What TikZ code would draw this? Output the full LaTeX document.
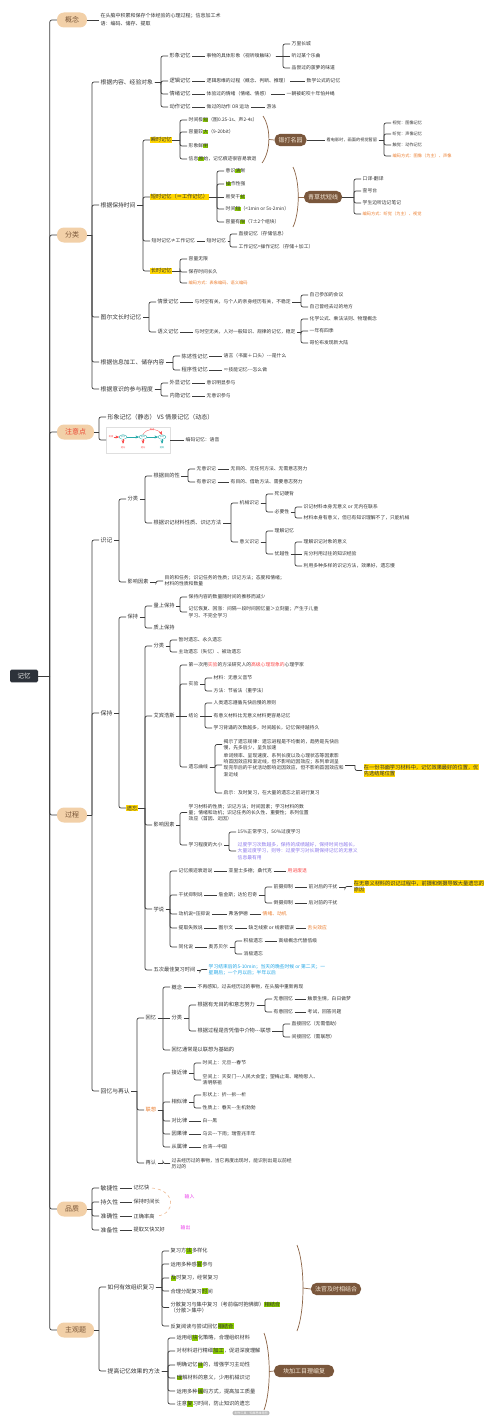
\documentclass[tikz,border=0pt]{standalone}
\usepackage{fontspec}
\setmainfont{Noto Sans CJK SC}
\usetikzlibrary{calc, arrows, shapes.geometric}

\definecolor{peach}{RGB}{242,208,168}
\definecolor{lonetxt}{RGB}{120,85,55}
\definecolor{txt}{RGB}{51,51,51}
\definecolor{lnk}{RGB}{60,60,60}
\definecolor{rootc}{RGB}{45,50,58}
\definecolor{hly}{RGB}{255,214,0}
\definecolor{hlg}{RGB}{140,206,0}
\definecolor{brbox}{RGB}{122,87,60}
\definecolor{brtxt}{RGB}{245,232,215}
\definecolor{brline}{RGB}{140,100,70}
\definecolor{tor}{RGB}{236,125,45}
\definecolor{tred}{RGB}{250,75,75}
\definecolor{tpur}{RGB}{140,120,235}
\definecolor{tblu}{RGB}{30,165,230}
\definecolor{tmag}{RGB}{235,60,235}
\definecolor{tteal}{RGB}{40,170,170}
\definecolor{zyred}{RGB}{235,70,50}
\definecolor{dashc}{RGB}{235,175,130}

\newcommand\hlgr[1]{{\setlength{\fboxsep}{0.25pt}\colorbox{hlg}{#1}}}
\newcommand\hlye[1]{{\setlength{\fboxsep}{0.25pt}\colorbox{hly}{#1}}}
\newcommand\dd{-{}-{}-}

\begin{document}
\begin{tikzpicture}[x=1pt,y=-1pt,>=stealth',
  link/.style={draw=lnk,line width=0.7pt},
  l1/.style={fill=peach,rounded corners=7pt,minimum height=15pt,inner xsep=8pt,text=lonetxt,font=\fontsize{7}{8}\selectfont},
  t2/.style={anchor=west,inner xsep=1.5pt,inner ysep=1pt,text=txt,font=\fontsize{5.8}{7}\selectfont},
  t3/.style={t2,align=left,font=\fontsize{5.2}{6.8}\selectfont},
  t4/.style={t2,align=left,font=\fontsize{4.8}{6.3}\selectfont},
  t5/.style={t2,align=left,font=\fontsize{4.2}{5.2}\selectfont},
  hl/.style={fill=hly,inner xsep=0.6pt,inner ysep=0.6pt},
  mcbox/.style={fill=brbox,text=brtxt,rounded corners=5.5pt,minimum height=12pt,inner xsep=4pt,font=\fontsize{6}{7}\selectfont},
  brace/.style={draw=brline,line width=0.7pt}]

\fill[white] (0,0) rectangle (502,1421);
\useasboundingbox (0,0) rectangle (502,1421);

% root and main branches
\node[fill=rootc,text=white!85!gray,minimum width=28pt,minimum height=12pt,rounded corners=1.5pt,font=\fontsize{6.5}{7}\selectfont] (mem) at (24,676) {记忆};
\node[l1] (gn) at (72,20) {概念};
\node[l1] (fl) at (72,235) {分类};
\node[l1,text=zyred] (zyd) at (75.5,432) {注意点};
\node[l1] (gc) at (72,815) {过程};
\node[l1] (pz) at (72,1209) {品质};
\node[l1] (zgt) at (75.5,1330) {主观题};

% 概念
\node[t4,font=\fontsize{5}{8}\selectfont] (gnt) at (99,20) {在头脑中积累和保存个体经验的心理过程；信息加工术\\语：编码、储存、提取};

% 分类
\node[t2] (fl1) at (99,82) {根据内容、经验对象};
\node[t3] (xx) at (168,56) {形象记忆};
\node[t4] (xxd) at (205,56) {事物的具体形象（视听嗅触味）};
\node[t4] (xx1) at (290,44) {万里长城};
\node[t4] (xx2) at (290,56) {听过某个乐曲};
\node[t4] (xx3) at (290,68) {品尝过的菠萝的味道};
\node[t3] (lj) at (168,81) {逻辑记忆};
\node[t4] (ljd) at (205,81) {逻辑思维的过程（概念、判断、推理）};
\node[t4] (ljx) at (305,81) {数学公式的记忆};
\node[t3] (qx) at (168,94) {情绪记忆};
\node[t4] (qxd) at (205,94) {体验过的情绪（情绪、情感）};
\node[t4] (qxx) at (285,94) {一朝被蛇咬十年怕井绳};
\node[t3] (dz) at (168,107) {动作记忆};
\node[t4] (dzd) at (205,107) {做过的动作 OR 运动};
\node[t4] (dzx) at (265,107) {游泳};

\node[t2] (fl2) at (99,205) {根据保持时间};
\node[t3,hl] (ss) at (150,140) {瞬时记忆};
\node[t4] (ss1) at (187,120) {时间极\hlgr{短}（图0.25-1s、声2-4s）};
\node[t4] (ss2) at (187,132) {容量较\hlgr{大}（9-20bit）};
\node[t4] (ss3) at (187,146) {形象鲜\hlgr{明}};
\node[t4] (ss4) at (187,159) {信息\hlgr{原}始，记忆痕迹很容易衰退};
\node[t3,hl] (ds) at (150,197) {短时记忆（≈工作记忆）};
\node[t4] (ds1) at (224,171) {意识\hlgr{清}晰};
\node[t4] (ds2) at (224,184) {\hlgr{操}作性强};
\node[t4] (ds3) at (224,197) {易受干\hlgr{扰}};
\node[t4] (ds4) at (224,209) {时间\hlgr{短}（<1min or 5s-2min）};
\node[t4] (ds5) at (224,222) {容量有\hlgr{限}（7±2个组块）};
\node[t4] (dsg) at (150,241) {短时记忆≠工作记忆};
\node[t4] (dsg1) at (205,241) {短时记忆};
\node[t4] (dsg2) at (237,234) {直接记忆（存储信息）};
\node[t4] (dsg3) at (237,247) {工作记忆=操作记忆（存储＋加工）};
\node[t3,hl] (cs) at (150,271) {长时记忆};
\node[t4] (cs1) at (187,259) {容量无限};
\node[t4] (cs2) at (187,272) {保存时间长久};
\node[t5,text=tor] (cs3) at (187,283) {编码方式：表象编码、语义编码};

% mnemonic braces
\coordinate (b1t) at (263,116);
\coordinate (b1b) at (262,163);
\coordinate (b1m) at (269,139.5);
\draw[brace] (b1t) .. controls (271,128) and (271,151) .. (b1b);
\node[mcbox] (mc1) at (290.5,140) {锻打名园};
\draw[brace] (b1m) -- (mc1.west);
\node[t5] (mc1d) at (325,140) {看电影时，画面的视觉暂留};
\node[t5] (mc11) at (391,123) {视觉：图像记忆};
\node[t5] (mc12) at (391,134) {听觉：声像记忆};
\node[t5] (mc13) at (391,145) {触觉：动作记忆};
\node[t5,text=tor] (mc14) at (391,156) {编码方式：图像（为主）、声像};

\coordinate (b2t) at (293,167);
\coordinate (b2b) at (293,227);
\coordinate (b2m) at (298.2,197);
\draw[brace] (b2t) .. controls (300,182) and (300,212) .. (b2b);
\node[mcbox] (mc2) at (323,197) {青草扰短线};
\draw[brace] (b2m) -- (mc2.west);
\node[t4] (mc21) at (361,179) {口译-翻译};
\node[t4] (mc22) at (361,191) {查号台};
\node[t4] (mc23) at (361,203) {学生边听边记笔记};
\node[t5,text=tor] (mc24) at (361,214) {编码方式：听觉（为主）、视觉};

\node[t2] (fl3) at (99,317) {图尔文长时记忆};
\node[t3] (qj) at (156,302) {情景记忆};
\node[t4] (qjd) at (193,302) {与时空有关，与个人的亲身经历有关，不稳定};
\node[t4] (qj1) at (308,295) {自己参加的会议};
\node[t4] (qj2) at (308,307) {自己曾经去过的地方};
\node[t3] (yy) at (156,332) {语义记忆};
\node[t4] (yyd) at (193,332) {与时空无关，人对一般知识、规律的记忆，稳定};
\node[t4] (yy1) at (308,319) {化学公式、乘法法则、物理概念};
\node[t4] (yy2) at (308,331) {一年有四季};
\node[t4] (yy3) at (308,343) {哥伦布发现新大陆};

\node[t2] (fl4) at (99,362) {根据信息加工、储存内容};
\node[t3] (cxa) at (180,356) {陈述性记忆};
\node[t4] (cxa1) at (222,356) {语言（书面＋口头）\dd 是什么};
\node[t3] (cxb) at (180,370) {程序性记忆};
\node[t4] (cxb1) at (222,370) {≈技能记忆\dd 怎么做};

\node[t2] (fl5) at (99,389) {根据意识的参与程度};
\node[t3] (wx) at (168,383) {外显记忆};
\node[t4] (wx1) at (205,383) {意识明显参与};
\node[t3] (ny) at (168,396) {内隐记忆};
\node[t4] (ny1) at (205,396) {无意识参与};

% 注意点
\node[t2,font=\fontsize{6}{7}\selectfont] (zy1) at (106,417) {形象记忆（静态） VS 情景记忆（动态）};
\node[anchor=west,draw=gray!25,line width=0.3pt,minimum width=64pt,minimum height=26pt,inner sep=0pt] (zyimg) at (106,440) {};
\begin{scope}[font=\fontsize{2.2}{2.6}\selectfont,line width=0.3pt]
  \node[text=tred,inner sep=0.3pt] (im0) at (111,437) {刺激};
  \node[ellipse,draw=tteal,inner sep=0.6pt,text=tteal] (im1) at (123,437) {感觉};
  \node[ellipse,draw=tteal,inner sep=0.6pt,text=tteal] (im2) at (143,437) {短时};
  \node[ellipse,draw=tteal,inner sep=0.6pt,text=tteal] (im3) at (162,437) {长时};
  \draw[->,tred] (im0) -- (im1);
  \draw[->,tteal] (im1) -- (im2);
  \draw[->,tteal] (im2) -- (im3);
  \draw[->,tred] (im2.north) .. controls (146,428) and (158,428) .. (im3.north);
  \node[text=tred] (im4) at (152,429.5) {复述};
  \node[text=tred] (im5) at (123,448) {遗忘};
  \node[text=tred] (im6) at (143,448) {遗忘};
  \node[text=tteal] (im7) at (162,448) {提取};
  \draw[->,tred] (im1.south) -- (im5.north);
  \draw[->,tred] (im2.south) -- (im6.north);
  \draw[->,tteal] (im3.south) -- (im7.north);
\end{scope}
\node[t4] (zy2) at (184,440) {编码记忆：语音};

% 过程
\node[t2] (sj) at (99,540) {识记};
\node[t2] (bc) at (99,713) {保持};
\node[t2] (hy) at (99,1091) {回忆与再认};

\node[t3] (sjfl) at (126,499) {分类};
\node[t3] (sjyx) at (126,582) {影响因素};
\node[t3] (mdx) at (152,476) {根据目的性};
\node[t3] (clx) at (152,523) {根据识记材料性质、识记方法};
\node[t4] (wysj) at (195,469) {无意识记};
\node[t4] (wysj1) at (229,469) {无目的、无任何方法、无需意志努力};
\node[t4] (yysj) at (195,482) {有意识记};
\node[t4] (yysj1) at (229,482) {有目的、借助方法、需要意志努力};
\node[t4] (jx) at (238,503) {机械识记};
\node[t4] (jx1) at (273,494) {死记硬背};
\node[t4] (byx) at (273,512) {必要性};
\node[t4] (byx1) at (302,507) {识记材料本身无意义 or 无内在联系};
\node[t4] (byx2) at (302,518) {材料本身有意义，但已有知识理解不了，只能机械};
\node[t4] (yyi) at (238,542) {意义识记};
\node[t4] (yyi1) at (273,531) {理解记忆};
\node[t4] (yyx) at (273,554) {优越性};
\node[t4] (yyx1) at (302,542) {理解识记对象的意义};
\node[t4] (yyx2) at (302,554) {充分利用过往的知识经验};
\node[t4] (yyx3) at (302,566) {利用多种多样的识记方法，效果好，遗忘慢};
\node[t4] (sjyx1) at (163,581) {目的和任务；识记任务的性质；识记方法；态度和情绪；\\材料的性质和数量};

\node[t3] (bcs) at (126,617) {保持};
\node[t3,hl] (yw) at (126,808) {遗忘};
\node[t3] (lsbc) at (152,606) {量上保持};
\node[t3] (zsbc) at (152,628) {质上保持};
\node[t4] (lsbc1) at (187,597) {保持内容的数量随时间的推移而减少};
\node[t4] (lsbc2) at (187,612) {记忆恢复、回涨：间隔一段时间回忆量＞立刻量；产生于儿童\\学习、不完全学习};

\node[t3] (ywfl) at (152,646) {分类};
\node[t4] (ywfl1) at (177,640) {暂时遗忘、永久遗忘};
\node[t4] (ywfl2) at (177,652) {主动遗忘（失忆）、被动遗忘};

\node[t3] (abhs) at (152,716) {艾宾浩斯};
\node[t4] (ab1) at (187,665) {第一次用\textcolor{tred}{实验}的方法研究人的\textcolor{tred}{高级心理现象的}心理学家};
\node[t4] (ab2) at (187,684) {实验};
\node[t4] (ab21) at (212,678) {材料：无意义音节};
\node[t4] (ab22) at (212,691) {方法：节省法（重学法）};
\node[t4] (ab3) at (187,716) {结论};
\node[t4] (ab31) at (212,703) {人类遗忘遵循先快后慢的原则};
\node[t4] (ab32) at (212,716) {有意义材料比无意义材料更容易记忆};
\node[t4] (ab33) at (212,728) {学习背诵的次数越多，时间越长，记忆保持越持久};
\node[t4] (ab4) at (187,767) {遗忘曲线};
\node[t4] (ab41) at (222,744.5) {揭示了遗忘规律：遗忘进程是不均衡的，趋势是先快后\\慢，先多后少，呈负加速};
\node[t4] (ab42) at (222,765) {单词频率、呈现速度、系列长度以及心理状态等因素影\\响首因效应和渐近线，但不影响近因效应；系列单词呈\\现完毕后的干扰活动影响近因效应，但不影响首因效应和\\渐近线};
\node[t4] (ab43) at (222,793) {启示：及时复习，在大量的遗忘之前进行复习};
\node[t3] (ab4y) at (362,770.5) {\hlye{在一份书面学习材料中，记忆效果最好的位置，优}\\\hlye{先选结尾位置}};

\node[t3] (ywyx) at (152,825) {影响因素};
\node[t4] (yx1) at (187,812.5) {学习材料的性质；识记方法；时间因素；学习材料的数\\量；情绪和动机；识记任务的长久性、重要性；系列位置\\效应（首因、近因）};
\node[t4] (yx2) at (187,845) {学习程度的大小};
\node[t4] (yx21) at (236,832) {15\%正常学习，50\%过度学习};
\node[t4,text=tpur] (yx22) at (236,851) {过度学习次数越多，保持的成绩越好，保持时间也越长，\\大量过度学习，则导：过度学习对长期保持记忆的无意义\\信息最有用};

\node[t3] (xs) at (152,909) {学说};
\node[t4] (hj) at (177,871) {记忆痕迹衰退说};
\node[t4] (hj1) at (227,871) {亚里士多德；桑代克};
\node[t4,text=tred] (hj2) at (286,871) {用进废退};
\node[t4] (gr) at (177,895) {干扰抑制说};
\node[t4] (gr1) at (217,895) {詹金斯；达伦巴奇};
\node[t4] (qs) at (272,887) {前摄抑制};
\node[t4] (qs1) at (307,887) {前对后的干扰};
\node[t3] (qs2) at (352,886.5) {\hlye{在无意义材料的识记过程中，前摄和倒摄导致大量遗忘的}\\\hlye{原因}};
\node[t4] (dsy) at (272,903) {倒摄抑制};
\node[t4] (dsy1) at (307,903) {后对前的干扰};
\node[t4] (dj) at (177,914) {动机说=压抑说};
\node[t4] (dj1) at (227,914) {弗洛伊德};
\node[t4,text=tor] (dj2) at (261,914) {情绪、动机};
\node[t4] (tq) at (177,928) {提取失败说};
\node[t4] (tq1) at (217,928) {图尔文};
\node[t4] (tq2) at (247,928) {缺乏线索 or 线索错误};
\node[t4,text=tor] (tq3) at (306,928) {舌尖效应};
\node[t4] (th) at (177,947) {同化说};
\node[t4] (th1) at (207,947) {奥苏贝尔};
\node[t4] (jj1) at (242,941) {积极遗忘};
\node[t4] (jj2) at (277,941) {高级概念代替低级};
\node[t4] (xj) at (242,954) {消极遗忘};

\node[t3] (wc) at (152,970) {五次最佳复习时间};
\node[t4,text=tblu] (wc1) at (207,969.5) {学习结束后的5-10min；当天的晚些时候 or 第二天；一\\星期后；一个月以后；半年以后};

% 回忆与再认
\node[t3] (hyi) at (144,1018) {回忆};
\node[t3,text=tor] (lx) at (144,1110) {联想};
\node[t3] (zr) at (144,1163) {再认};
\node[t3] (hgn) at (170,987) {概念};
\node[t4] (hgn1) at (196,987) {不再感知，过去经历过的事物，在头脑中重新再现};
\node[t3] (hfl) at (170,1018) {分类};
\node[t3] (hf1) at (196,1005) {根据有无目的和意志努力};
\node[t4] (wyh) at (272,999) {无意回忆};
\node[t4] (wyh1) at (306,999) {触景生情，白日做梦};
\node[t4] (yyh) at (272,1012) {有意回忆};
\node[t4] (yyh1) at (306,1012) {考试，回答问题};
\node[t3] (hf2) at (196,1031) {根据过程是否凭借中介物\dd 联想};
\node[t4] (zjh) at (290,1024) {直接回忆（无需借助）};
\node[t4] (jjh) at (290,1037) {间接回忆（需联想）};
\node[t3] (hty) at (170,1050) {回忆通常是以联想为基础的};
\node[t3] (jjl) at (170,1073) {接近律};
\node[t4] (jjl1) at (201,1063) {时间上：元旦\dd 春节};
\node[t4] (jjl2) at (201,1080) {空间上：天安门\dd 人民大会堂；望梅止渴、睹物思人、\\清明祭祖};
\node[t3] (xsl) at (170,1102) {相似律};
\node[t4] (xsl1) at (201,1095) {形状上：折\dd 拆\dd 析};
\node[t4] (xsl2) at (201,1108) {性质上：春天\dd 生机勃勃};
\node[t3] (dbl) at (170,1121) {对比律};
\node[t4] (dbl1) at (201,1121) {白\dd 黑};
\node[t3] (ygl) at (170,1134) {因果律};
\node[t4] (ygl1) at (201,1134) {乌云\dd 下雨；瑞雪兆丰年};
\node[t3] (csl) at (170,1147) {从属律};
\node[t4] (csl1) at (201,1147) {台湾\dd 中国};
\node[t4] (zr1) at (170,1163.5) {过去经历过的事物，当它再度出现时，能识别出是以前经\\历过的};

% 品质
\node[t2] (mj) at (99,1188) {敏捷性};
\node[t3] (mj1) at (132,1188) {记忆快};
\node[t2] (cj) at (99,1202) {持久性};
\node[t3] (cj1) at (132,1202) {保持时间长};
\node[t2] (zq) at (99,1216) {准确性};
\node[t3] (zq1) at (132,1216) {正确率高};
\node[t2] (zb) at (99,1230) {准备性};
\node[t3] (zb1) at (132,1230) {提取又快又好};
\draw[dashed,draw=dashc,line width=0.5pt] ([xshift=1pt]mj1.east) .. controls (176,1190) and (176,1214) .. ([xshift=1pt]zq1.east);
\node[t4,text=tmag] (sr) at (183,1197) {输入};
\node[t4,text=tmag] (sc) at (179,1228) {输出};

% 主观题
\node[t2] (zz) at (106,1287) {如何有效组织复习};
\node[t3] (zz1) at (169,1251) {复习方\hlgr{法}多样化};
\node[t3] (zz2) at (169,1264) {运用多种感\hlgr{官}参与};
\node[t3] (zz3) at (169,1278) {\hlgr{及}时复习，经常复习};
\node[t3] (zz4) at (169,1291) {合理分配复习\hlgr{时}间};
\node[t3] (zz5) at (169,1307.5) {分散复习与集中复习（考前临时抱佛脚）\hlgr{相结合}\\（分散＞集中）};
\node[t3] (zz6) at (169,1326) {反复阅读与尝试回忆\hlgr{相结合}};
\node[t2] (tg) at (106,1371) {提高记忆效果的方法};
\node[t3] (tg1) at (175,1338) {运用组\hlgr{块}化策略，合理组织材料};
\node[t3] (tg2) at (175,1351) {对材料进行精细\hlgr{加工}，促进深度理解};
\node[t3] (tg3) at (175,1365) {明确记忆\hlgr{目}的，增强学习主动性};
\node[t3] (tg4) at (175,1378) {\hlgr{理}解材料的意义，少用机械识记};
\node[t3] (tg5) at (175,1391) {运用多种\hlgr{编}码方式，提高加工质量};
\node[t3] (tg6) at (175,1404) {注意\hlgr{复}习时间，防止知识的遗忘};

\coordinate (b3t) at (297,1245);
\coordinate (b3b) at (297,1331);
\coordinate (b3m) at (303,1288);
\draw[brace] (b3t) .. controls (305,1265) and (305,1311) .. (b3b);
\node[mcbox] (fg) at (336,1289) {法官及时相结合};
\draw[brace] (b3m) -- (fg.west);

\coordinate (b4t) at (264,1333);
\coordinate (b4b) at (264,1410);
\coordinate (b4m) at (269.2,1371.5);
\draw[brace] (b4t) .. controls (271,1352) and (271,1391) .. (b4b);
\node[mcbox,minimum width=60pt] (kj) at (304,1371) {块加工目理编复};
\draw[brace] (b4m) -- (kj.west);

\node[fill=gray!55,text=white,rounded corners=2pt,inner xsep=2pt,inner ysep=0.8pt,font=\fontsize{3}{3.5}\selectfont] (wm) at (251,1413) {制作工具：知犀思维导图};

% connectors
\foreach \s/\t in {mem/gn, mem/fl, mem/zyd, mem/gc, mem/pz, mem/zgt, gn/gnt,
  fl/fl1, fl/fl2, fl/fl3, fl/fl4, fl/fl5,
  fl1/xx, fl1/lj, fl1/qx, fl1/dz, xx/xxd, xxd/xx1, xxd/xx2, xxd/xx3,
  lj/ljd, ljd/ljx, qx/qxd, qxd/qxx, dz/dzd, dzd/dzx,
  fl2/ss, fl2/ds, fl2/dsg, fl2/cs, ss/ss1, ss/ss2, ss/ss3, ss/ss4,
  ds/ds1, ds/ds2, ds/ds3, ds/ds4, ds/ds5, dsg/dsg1, dsg1/dsg2, dsg1/dsg3,
  cs/cs1, cs/cs2, cs/cs3, mc1/mc1d, mc1d/mc11, mc1d/mc12, mc1d/mc13, mc1d/mc14,
  mc2/mc21, mc2/mc22, mc2/mc23, mc2/mc24,
  fl3/qj, fl3/yy, qj/qjd, qjd/qj1, qjd/qj2, yy/yyd, yyd/yy1, yyd/yy2, yyd/yy3,
  fl4/cxa, fl4/cxb, cxa/cxa1, cxb/cxb1, fl5/wx, fl5/ny, wx/wx1, ny/ny1,
  zyd/zy1, zyd/zyimg, zyimg/zy2,
  gc/sj, gc/bc, gc/hy, sj/sjfl, sj/sjyx, sjfl/mdx, sjfl/clx,
  mdx/wysj, mdx/yysj, wysj/wysj1, yysj/yysj1, clx/jx, clx/yyi,
  jx/jx1, jx/byx, byx/byx1, byx/byx2, yyi/yyi1, yyi/yyx, yyx/yyx1, yyx/yyx2, yyx/yyx3,
  sjyx/sjyx1, bc/bcs, bc/yw, bcs/lsbc, bcs/zsbc, lsbc/lsbc1, lsbc/lsbc2,
  yw/ywfl, yw/abhs, yw/ywyx, yw/xs, yw/wc, ywfl/ywfl1, ywfl/ywfl2,
  abhs/ab1, abhs/ab2, abhs/ab3, abhs/ab4, ab2/ab21, ab2/ab22,
  ab3/ab31, ab3/ab32, ab3/ab33, ab4/ab41, ab4/ab42, ab4/ab43, ab42/ab4y,
  ywyx/yx1, ywyx/yx2, yx2/yx21, yx2/yx22,
  xs/hj, xs/gr, xs/dj, xs/tq, xs/th, hj/hj1, hj1/hj2, gr/gr1, gr1/qs, gr1/dsy,
  qs/qs1, qs1/qs2, dsy/dsy1, dj/dj1, dj1/dj2, tq/tq1, tq1/tq2, tq2/tq3,
  th/th1, th1/jj1, th1/xj, jj1/jj2, wc/wc1,
  hy/hyi, hy/lx, hy/zr, hyi/hgn, hyi/hfl, hyi/hty, hgn/hgn1, hfl/hf1, hfl/hf2,
  hf1/wyh, hf1/yyh, wyh/wyh1, yyh/yyh1, hf2/zjh, hf2/jjh,
  lx/jjl, lx/xsl, lx/dbl, lx/ygl, lx/csl, jjl/jjl1, jjl/jjl2, xsl/xsl1, xsl/xsl2,
  dbl/dbl1, ygl/ygl1, csl/csl1, zr/zr1,
  pz/mj, pz/cj, pz/zq, pz/zb, mj/mj1, cj/cj1, zq/zq1, zb/zb1,
  zgt/zz, zgt/tg, zz/zz1, zz/zz2, zz/zz3, zz/zz4, zz/zz5, zz/zz6,
  tg/tg1, tg/tg2, tg/tg3, tg/tg4, tg/tg5, tg/tg6} {
  \pgfpointanchor{\s}{east}\pgfgetlastxy{\sx}{\sy}
  \pgfpointanchor{\t}{west}\pgfgetlastxy{\tx}{\ty}
  \pgfmathsetmacro\dyv{abs(\sy-\ty)}
  \draw[link] (\s.east) -- ($(\s.east -| \t.west)+(-7,0)$) coordinate (bk);
  \ifdim\dyv pt<0.5pt
    \draw[link] (bk) -- (\t.west);
  \else
    \draw[link,rounded corners=2pt] (bk) |- (\t.west);
  \fi}

\end{tikzpicture}
\end{document}
